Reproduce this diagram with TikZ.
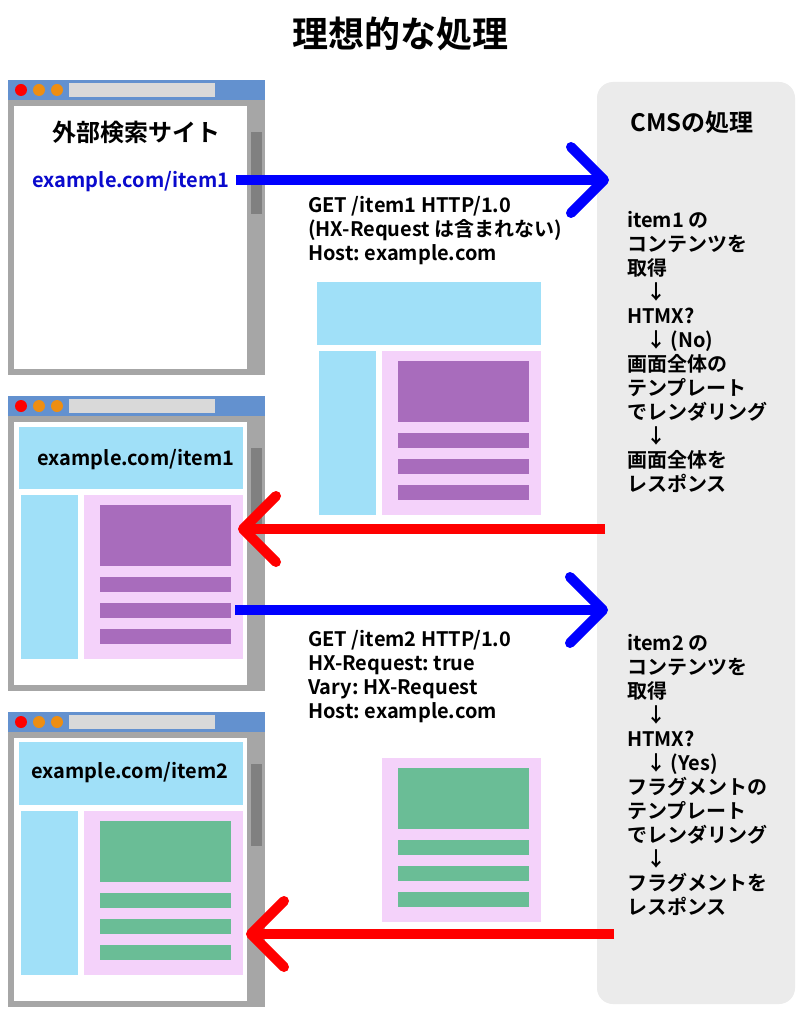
\documentclass[tikz,border=0pt]{standalone}
\usepackage{fontspec}
\setmainfont{Noto Sans CJK JP}[BoldFont={* Bold}]
\usetikzlibrary{arrows.meta}

\definecolor{barblue}{HTML}{6391CF}
\definecolor{framegray}{HTML}{A6A6A6}
\definecolor{thumbgray}{HTML}{808080}
\definecolor{urlgray}{HTML}{D9D9D9}
\definecolor{dotorange}{HTML}{EE8E12}
\definecolor{headblue}{HTML}{A0E0F8}
\definecolor{panepink}{HTML}{F4D2FA}
\definecolor{itempurple}{HTML}{A86CBC}
\definecolor{itemgreen}{HTML}{6ABD96}
\definecolor{cmsgray}{HTML}{EBEBEB}
\definecolor{urlblue}{HTML}{0A0ACD}

\newcommand{\bodyfont}{\fontsize{20pt}{24pt}\selectfont\bfseries\frenchspacing\spaceskip 4.5pt\relax}

\tikzset{
  bigarrow/.style={line width=10pt,-{Straight Barb[length=33pt,width=66pt,round]}},
  reqarrow/.style={bigarrow,draw={rgb,255:red,0;green,0;blue,255}},
  resparrow/.style={bigarrow,draw={rgb,255:red,255;green,0;blue,0}},
  headtext/.style={font=\fontsize{24pt}{28pt}\selectfont\bfseries},
  urltext/.style={font=\bodyfont},
  plaintext/.style={inner sep=0pt,align=flush left,text width=#1,font=\bodyfont},
  plaintext/.default=190pt,
}

% one browser window, #1 is the top edge
\newcommand{\browserframe}[1]{
\fill[framegray] (8,#1) rectangle (265,#1+295);
\fill[barblue] (8,#1) rectangle (265,#1+20);
\fill[white] (14,#1+26) rectangle (247,#1+289);
\fill[thumbgray] (251,#1+52) rectangle (262,#1+134);
\fill[urlgray] (69,#1+3) rectangle (215,#1+17);
\fill[red] (21,#1+10) circle (6);
\fill[dotorange] (39,#1+10) circle (6);
\fill[dotorange] (57,#1+10) circle (6);
}

% pink pane with a picture and three lines, #1 and #2 the corner, #3 the colour
\newcommand{\contentpane}[3]{
\fill[panepink] (#1,#2) rectangle (#1+159,#2+164);
\fill[#3] (#1+16,#2+10) rectangle (#1+147,#2+71);
\foreach \barY in {82,108,134}
  \fill[#3] (#1+16,#2+\barY) rectangle (#1+147,#2+\barY+15);
}

\begin{document}
\begin{tikzpicture}[x=1pt,y=-1pt]
\fill[white] (0,0) rectangle (800,1016);
\useasboundingbox (0,0) rectangle (800,1016);

\node[font=\fontsize{36pt}{42pt}\selectfont\bfseries] (title) at (400,34) {理想的な処理};

\fill[cmsgray,rounded corners=16pt] (597,82) rectangle (795,1004);
\node[headtext] (cmstitle) at (692,122) {CMSの処理};

% browsers
\browserframe{80}
\browserframe{396}
\browserframe{712}

\node[headtext] (searchsite) at (136,132) {外部検索サイト};
\node[urltext,text=urlblue] (url1) at (131,182) {example.com/item1};

\fill[headblue] (19,427) rectangle (243,489);
\fill[headblue] (21,495) rectangle (78,659);
\contentpane{84}{495}{itempurple}
\node[urltext] (url1b) at (136,460) {example.com/item1};

\fill[headblue] (19,742) rectangle (243,805);
\fill[headblue] (21,811) rectangle (78,975);
\contentpane{84}{811}{itemgreen}
\node[urltext] (url2) at (130,773) {example.com/item2};

% what comes back
\fill[headblue] (317,282) rectangle (541,345);
\fill[headblue] (319,351) rectangle (376,515);
\contentpane{382}{351}{itempurple}
\contentpane{382}{758}{itemgreen}

% requests
\node[plaintext=280pt,anchor=north west] (req1) at (308,196) {GET /item1 HTTP/1.0\\(HX-Request は含まれない)\\Host: example.com};
\node[plaintext=280pt,anchor=north west] (req2) at (308,630) {GET /item2 HTTP/1.0\\HX-Request: true\\Vary: HX-Request\\Host: example.com};

% cms steps
\node[plaintext,anchor=north west] (steps1) at (627,211) {item1 の\\コンテンツを\\取得\\\hspace*{19pt}↓\\HTMX?\\\hspace*{19pt}↓ (No)\\画面全体の\\テンプレート\\でレンダリング\\\hspace*{19pt}↓\\画面全体を\\レスポンス};
\node[plaintext,anchor=north west] (steps2) at (627,634) {item2 の\\コンテンツを\\取得\\\hspace*{19pt}↓\\HTMX?\\\hspace*{19pt}↓ (Yes)\\フラグメントの\\テンプレート\\でレンダリング\\\hspace*{19pt}↓\\フラグメントを\\レスポンス};

% arrows
\coordinate (get1from) at (236,180);
\coordinate (get1to) at (609,180);
\coordinate (res1from) at (605,529);
\coordinate (res1to) at (238,529);
\coordinate (get2from) at (235,610);
\coordinate (get2to) at (608,610);
\coordinate (res2from) at (614,934);
\coordinate (res2to) at (246,934);
\draw[reqarrow] (get1from) -- (get1to);
\draw[resparrow] (res1from) -- (res1to);
\draw[reqarrow] (get2from) -- (get2to);
\draw[resparrow] (res2from) -- (res2to);
\end{tikzpicture}
\end{document}
